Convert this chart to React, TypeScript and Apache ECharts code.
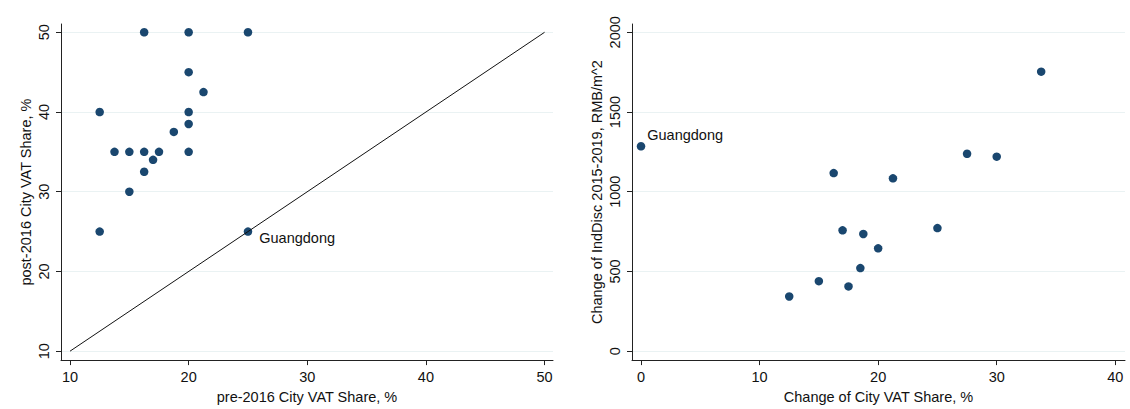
import React, { useEffect, useRef } from "react";
import * as echarts from "echarts";

// Left panel: pre- vs post-2016 city VAT share (%)
const preShare = [16.25, 20, 25, 20, 21.25, 12.5, 20, 20, 18.75, 13.75, 15, 16.25, 17.5, 20, 17, 16.25, 15, 12.5, 25];
const postShare = [50, 50, 50, 45, 42.5, 40, 40, 38.5, 37.5, 35, 35, 35, 35, 35, 34, 32.5, 30, 25, 25];
const leftLabels = ["", "", "", "", "", "", "", "", "", "", "", "", "", "", "", "", "", "", "Guangdong"];
const diagonal = [10, 50];
const leftTicks = [10, 20, 30, 40, 50];

// Right panel: change of city VAT share vs change of IndDisc
const vatChange = [0, 16.25, 21.25, 27.5, 30, 25, 17, 18.75, 20, 18.5, 15, 17.5, 12.5, 33.75];
const indDiscChange = [1285, 1117, 1084, 1238, 1220, 772, 758, 735, 645, 521, 439, 406, 343, 1753];
const rightLabels = ["Guangdong", "", "", "", "", "", "", "", "", "", "", "", "", ""];
const rightXTicks = [0, 10, 20, 30, 40];
const rightYTicks = [0, 500, 1000, 1500, 2000];

const FONT = "Arial, 'Liberation Sans', sans-serif";
const NAVY = "#1a476f";
const GRID = "#eaf2f3";
const FS = 14.5;

export default function App() {
  const ref = useRef<HTMLDivElement>(null);
  useEffect(() => {
    document.body.style.margin = "0";
    const chart = echarts.init(ref.current!, null, { renderer: "svg" });
    const axisBase = {
      type: "value" as const,
      axisLine: { show: true, onZero: false, lineStyle: { color: "#222", width: 1 } },
      axisLabel: { color: "#111", fontSize: FS, fontFamily: FONT, formatter: (v: number) => String(v) },
      nameTextStyle: { color: "#111", fontSize: FS, fontFamily: FONT },
      nameLocation: "middle" as const,
    };
    const mkX = (gridIndex: number, min: number, max: number, ticks: number[], name: string) => ({
      ...axisBase,
      gridIndex,
      min,
      max,
      name,
      nameGap: 25,
      axisTick: { show: true, length: 5, customValues: ticks, lineStyle: { color: "#222" } },
      axisLabel: { ...axisBase.axisLabel, customValues: ticks, margin: 9 },
      splitLine: { show: false },
    });
    const mkY = (gridIndex: number, min: number, max: number, ticks: number[], name: string, gap: number) => ({
      ...axisBase,
      gridIndex,
      min,
      max,
      name,
      nameGap: gap,
      nameRotate: 90,
      axisTick: { show: true, length: 5, customValues: ticks, lineStyle: { color: "#222" } },
      axisLabel: { ...axisBase.axisLabel, customValues: ticks, rotate: 90, margin: 10 },
      splitLine: { show: true, lineStyle: { color: GRID, width: 1 } },
    });
    const pointData = (xs: number[], ys: number[], labels: string[], pos: number[]) =>
      xs.map((x, i) =>
        labels[i]
          ? {
              value: [x, ys[i]],
              label: {
                show: true,
                formatter: labels[i],
                position: pos,
                align: "left",
                verticalAlign: "middle",
                color: "#111",
                fontSize: FS,
                fontFamily: FONT,
              },
            }
          : { value: [x, ys[i]] }
      );
    chart.setOption({
      animation: false,
      backgroundColor: "#fff",
      textStyle: { fontFamily: FONT },
      grid: [
        { left: 61, top: 24, width: 492, height: 338 },
        { left: 632, top: 24, width: 493, height: 338 },
      ],
      xAxis: [
        mkX(0, 9.24, 50.71, leftTicks, "pre-2016 City VAT Share, %"),
        mkX(1, -0.76, 40.82, rightXTicks, "Change of City VAT Share, %"),
      ],
      yAxis: [
        mkY(0, 8.88, 51.04, leftTicks, "post-2016 City VAT Share, %", 28),
        mkY(1, -56, 2052, rightYTicks, "Change of IndDisc 2015-2019, RMB/m^2", 28),
      ],
      series: [
        {
          type: "line",
          xAxisIndex: 0,
          yAxisIndex: 0,
          data: diagonal.map((v) => [v, v]),
          symbol: "none",
          lineStyle: { color: "#111", width: 1 },
          silent: true,
        },
        {
          type: "scatter",
          xAxisIndex: 0,
          yAxisIndex: 0,
          symbolSize: 8.5,
          itemStyle: { color: NAVY, opacity: 1 },
          data: pointData(preShare, postShare, leftLabels, [15.5, 10.5]),
        },
        {
          type: "scatter",
          xAxisIndex: 1,
          yAxisIndex: 1,
          symbolSize: 8.5,
          itemStyle: { color: NAVY, opacity: 1 },
          data: pointData(vatChange, indDiscChange, rightLabels, [10.5, -7.5]),
        },
      ],
    });
    return () => chart.dispose();
  }, []);
  return <div ref={ref} style={{ width: 1130, height: 409 }} />;
}
